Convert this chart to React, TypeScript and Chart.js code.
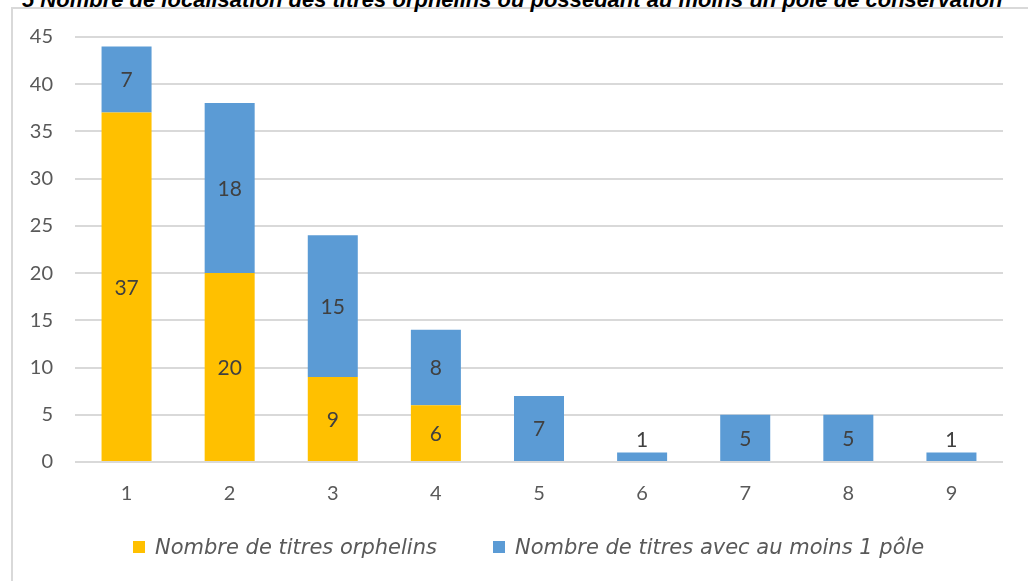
import React, { useEffect, useRef } from "react";
import { Chart, registerables } from "chart.js";

Chart.register(...registerables);

const categories = ["1", "2", "3", "4", "5", "6", "7", "8", "9"];
const orphelins = [37, 20, 9, 6, 0, 0, 0, 0, 0];
const avecPole = [7, 18, 15, 8, 7, 1, 5, 5, 1];
const seriesNames = ["Nombre de titres orphelins", "Nombre de titres avec au moins 1 pôle"];
const seriesColors = ["#FFC000", "#5B9BD5"];
const titleText =
  "5 Nombre de localisation des titres orphelins ou possédant au moins un pôle de conservation";

const valueLabels = {
  id: "valueLabels",
  afterDatasetsDraw(chart: any) {
    const ctx = chart.ctx;
    ctx.save();
    ctx.font = "21px Lato";
    ctx.fillStyle = "#404040";
    ctx.textAlign = "center";
    ctx.textBaseline = "middle";
    chart.data.datasets.forEach((ds: any, di: number) => {
      const meta = chart.getDatasetMeta(di);
      meta.data.forEach((el: any, i: number) => {
        const v = ds.data[i];
        if (!v) return;
        const top = Math.min(el.y, el.base);
        const bottom = Math.max(el.y, el.base);
        const h = bottom - top;
        const y = h > 22 ? (top + bottom) / 2 + 1 : top - 12;
        ctx.fillText(String(v), el.x, y);
      });
    });
    ctx.restore();
  },
};

export default function App() {
  const ref = useRef<HTMLCanvasElement | null>(null);

  useEffect(() => {
    if (!ref.current) return;
    const chart = new Chart(ref.current, {
      type: "bar",
      data: {
        labels: categories,
        datasets: [
          {
            label: seriesNames[0],
            data: orphelins,
            backgroundColor: seriesColors[0],
            barPercentage: 0.485,
            categoryPercentage: 1,
          },
          {
            label: seriesNames[1],
            data: avecPole,
            backgroundColor: seriesColors[1],
            barPercentage: 0.485,
            categoryPercentage: 1,
          },
        ],
      },
      options: {
        animation: false,
        responsive: false,
        maintainAspectRatio: false,
        layout: { padding: { left: 0, right: 25, top: 37, bottom: 59 } },
        plugins: {
          legend: { display: false },
          tooltip: { enabled: false },
          title: { display: false },
        },
        scales: {
          x: {
            stacked: true,
            grid: { display: false },
            border: { display: false },
            ticks: {
              color: "#595959",
              font: { family: "Lato", size: 20 },
              padding: 12,
            },
            afterFit(scale: any) {
              scale.height = 60;
            },
          },
          y: {
            stacked: true,
            min: 0,
            max: 45,
            grid: { color: "#d9d9d9", lineWidth: 2, drawTicks: false },
            border: { display: false },
            ticks: {
              stepSize: 5,
              color: "#595959",
              font: { family: "Lato", size: 20 },
              padding: 22,
            },
            afterFit(scale: any) {
              scale.width = 75;
            },
          },
        },
      },
      plugins: [valueLabels],
    });
    return () => chart.destroy();
  }, []);

  return (
    <div
      style={{
        position: "fixed",
        left: 0,
        top: 0,
        width: 1028,
        height: 581,
        overflow: "hidden",
        background: "#fff",
      }}
    >
      <div
        style={{
          position: "absolute",
          left: 11,
          top: 7,
          width: 1100,
          height: 700,
          borderLeft: "2px solid #d9d9d9",
          borderTop: "2px solid #d9d9d9",
        }}
      />
      <div
        style={{
          position: "absolute",
          left: 22,
          top: -13,
          lineHeight: "20px",
          whiteSpace: "nowrap",
          font: "italic bold 22px 'Liberation Sans', Arial, sans-serif",
          color: "#000",
        }}
      >
        {titleText}
      </div>
      <canvas
        ref={ref}
        width={1028}
        height={581}
        style={{ position: "absolute", left: 0, top: 0, width: 1028, height: 581 }}
      />
      <div
        style={{
          position: "absolute",
          left: 133,
          top: 535,
          height: 24,
          display: "flex",
          alignItems: "center",
          whiteSpace: "nowrap",
          font: "italic 21px 'DejaVu Sans', sans-serif",
          color: "#595959",
        }}
      >
        {seriesNames.map((n, i) => (
          <div
            key={n}
            style={{ display: "flex", alignItems: "center", marginRight: i === 0 ? 56 : 0 }}
          >
            <span
              style={{
                display: "inline-block",
                width: 12,
                height: 12,
                background: seriesColors[i],
                marginRight: 10,
              }}
            />
            <span>{n}</span>
          </div>
        ))}
      </div>
    </div>
  );
}
